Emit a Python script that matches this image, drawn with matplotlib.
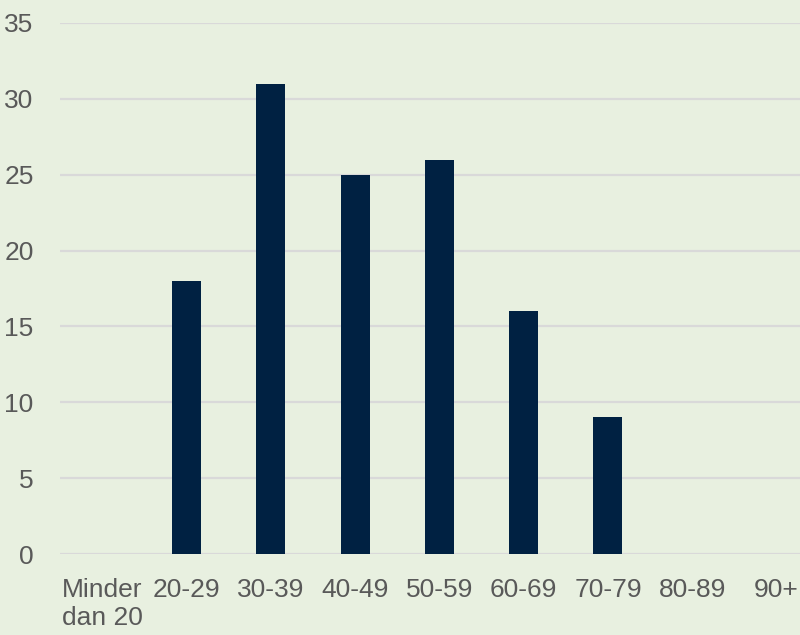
import matplotlib
matplotlib.use("Agg")
import matplotlib.pyplot as plt

categories = ["Minder\ndan 20", "20-29", "30-39", "40-49", "50-59", "60-69", "70-79", "80-89", "90+"]
values = [0, 18, 31, 25, 26, 16, 9, 0, 0]
yticks = [0, 5, 10, 15, 20, 25, 30, 35]

bg = "#E8F0E0"
bar_color = "#002142"
text_color = "#595959"
grid_color = "#D9D9D9"

plt.rcParams['font.family'] = ['Liberation Sans', 'DejaVu Sans']

fig = plt.figure(figsize=(8.0, 6.35), dpi=100, facecolor=bg)
ax = fig.add_axes([0.075, (635-554)/635, 758.7/800, 531/635])
ax.set_facecolor(bg)

x = list(range(len(categories)))
ax.bar(x, values, width=0.344, color=bar_color, zorder=3)

ax.set_xlim(-0.5, len(categories) - 0.5)
ax.set_ylim(0, 35)
ax.set_yticks(yticks)
ax.set_yticklabels([str(t) for t in yticks])
ax.set_xticks(x)
ax.set_xticklabels(categories, linespacing=1.25)

ax.yaxis.grid(True, color=grid_color, linewidth=1.6, zorder=0)
ax.xaxis.grid(False)
for s in ax.spines.values():
    s.set_visible(False)
ax.tick_params(axis='both', length=0, labelsize=19, colors=text_color)
ax.tick_params(axis='y', pad=19)
ax.tick_params(axis='x', pad=17)

fig.savefig("out.png", dpi=100, facecolor=bg)
